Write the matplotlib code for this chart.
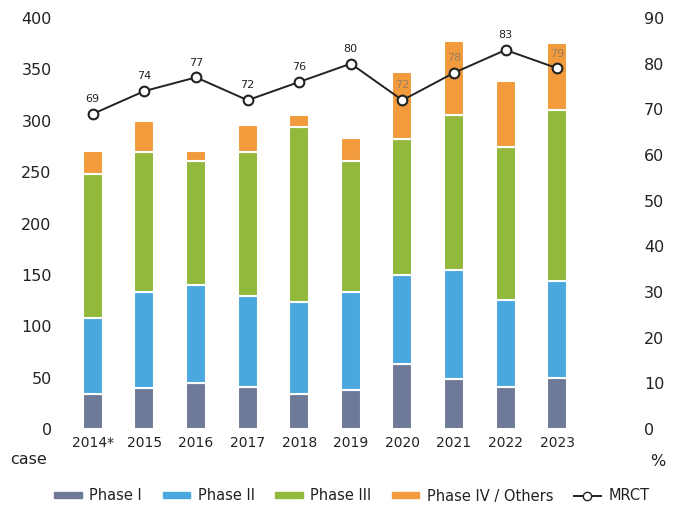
import numpy as np
import matplotlib
matplotlib.use('Agg')
import matplotlib.pyplot as plt
from matplotlib.lines import Line2D
from matplotlib.patches import Patch

plt.rcParams['font.family'] = ['DejaVu Sans']

years = ['2014*', '2015', '2016', '2017', '2018', '2019', '2020', '2021', '2022', '2023']
phase1 = [34, 40, 45, 41, 34, 38, 63, 49, 41, 50]
phase2 = [74, 93, 95, 88, 90, 95, 87, 106, 85, 94]
phase3 = [140, 137, 121, 141, 170, 128, 132, 151, 148, 166]
phase4 = [23, 30, 10, 26, 12, 22, 65, 72, 65, 66]
mrct = [69, 74, 77, 72, 76, 80, 72, 78, 83, 79]

c1 = '#6f7a98'
c2 = '#4aa8de'
c3 = '#92b83c'
c4 = '#f29b3c'
tcol = '#222222'

fig = plt.figure(figsize=(6.77, 5.07), dpi=100)
ax = fig.add_axes([67/677, 1-429/507, 516/677, 411/507])
x = np.arange(len(years))
w = 0.39

b = np.zeros(len(years))
for vals, col in [(phase1, c1), (phase2, c2), (phase3, c3), (phase4, c4)]:
	ax.bar(x, vals, w, bottom=b, color=col, edgecolor='white', linewidth=1.5, zorder=2)
	b = b + np.array(vals)

ax.set_xlim(-0.5, len(years) - 0.5)
ax.set_ylim(0, 400)
ax.set_yticks(range(0, 401, 50))
ax.set_xticks(x)
ax.set_xticklabels(years, fontsize=10, color=tcol)
ax.tick_params(axis='y', length=0, pad=11, labelsize=11.5, labelcolor=tcol)
ax.tick_params(axis='x', length=0, pad=5)
for s in ax.spines.values():
	s.set_visible(False)

ax2 = ax.twinx()
ax2.set_ylim(0, 90)
ax2.set_yticks(range(0, 91, 10))
ax2.tick_params(axis='y', length=0, pad=44, labelsize=11.5, labelcolor=tcol)
for s in ax2.spines.values():
	s.set_visible(False)

ax2.plot(x, mrct, color='#222222', lw=1.4, marker='o', ms=7, mfc='white', mec='#222222', mew=1.5, zorder=5)
# labels sitting inside the tall orange bars are faded
inside = [6, 7, 9]
for i, v in enumerate(mrct):
	col = '#9c7d5c' if i in inside else tcol
	ax2.annotate(str(v), (x[i], v), xytext=(0, 7), textcoords='offset points',
		ha='center', va='bottom', fontsize=8, color=col)

fig.text(10/677, 1-460/507, 'case', fontsize=11.5, color=tcol, va='center')
fig.text(650/677, 1-462/507, '%', fontsize=11.5, color=tcol, va='center')

handles = [Patch(color=c1), Patch(color=c2), Patch(color=c3), Patch(color=c4),
	Line2D([], [], color='#222222', lw=1.4, marker='o', ms=6, mfc='white', mec='#222222')]
labels = ['Phase I', 'Phase II', 'Phase III', 'Phase IV / Others', 'MRCT']
fig.legend(handles, labels, loc='center', bbox_to_anchor=(0.52, 1-496/507), ncol=5,
	frameon=False, fontsize=10.5, handlelength=1.9, handleheight=0.3, handletextpad=0.5,
	columnspacing=1.4, labelcolor=tcol)

fig.savefig('out.png', dpi=100)
